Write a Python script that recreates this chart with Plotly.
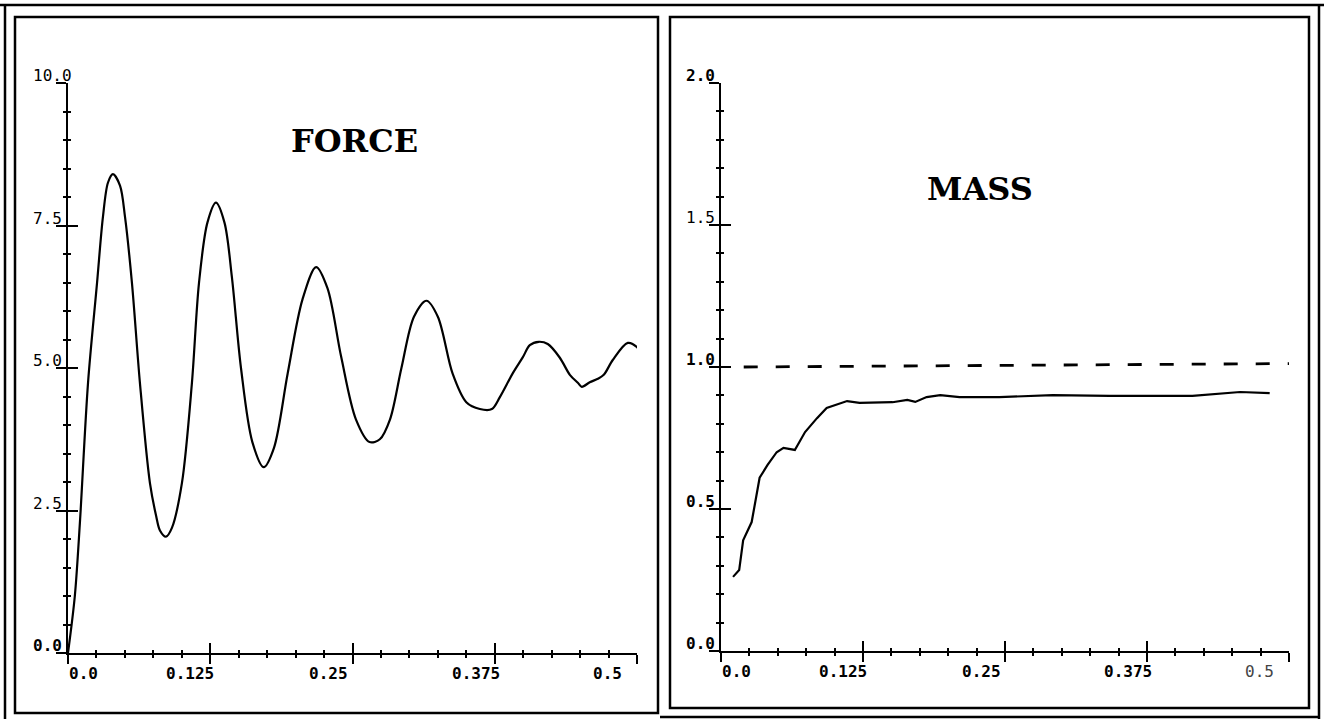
import plotly.graph_objects as go

W, H = 1324, 719

# ---------------- data ----------------
force_t = [0.000, 0.006, 0.0105, 0.0176, 0.0255, 0.0307, 0.0351, 0.0395, 0.0457, 0.0501,
           0.0562, 0.0632, 0.0720, 0.0775, 0.0808, 0.0861, 0.0914, 0.1001, 0.1089, 0.1151,
           0.1225, 0.1300, 0.1375, 0.1440, 0.1520, 0.1620, 0.1720, 0.1810, 0.1930, 0.2060,
           0.2180, 0.2280, 0.2400, 0.2530, 0.2650, 0.2740, 0.2830, 0.2930, 0.3040, 0.3150,
           0.3250, 0.3380, 0.3500, 0.3619, 0.3725, 0.3795, 0.3909, 0.3997, 0.4058, 0.4137,
           0.4216, 0.4322, 0.4410, 0.4480, 0.4515, 0.4585, 0.4656, 0.4708, 0.4787, 0.4919,
           0.4998, 0.5033]
force_v = [0.00, 1.00, 2.30, 4.74, 6.49, 7.65, 8.25, 8.40, 8.20, 7.65,
           6.49, 4.74, 2.98, 2.40, 2.15, 2.04, 2.20, 2.98, 4.74, 6.49,
           7.55, 7.90, 7.55, 6.60, 5.00, 3.70, 3.26, 3.60, 4.90, 6.20,
           6.77, 6.40, 5.20, 4.10, 3.70, 3.75, 4.10, 5.00, 5.90, 6.18,
           5.90, 4.90, 4.40, 4.28, 4.28, 4.49, 4.91, 5.19, 5.40, 5.46,
           5.42, 5.18, 4.88, 4.74, 4.67, 4.75, 4.81, 4.88, 5.14, 5.44,
           5.37, 5.26]

mass_t = [0.0106, 0.0160, 0.0195, 0.0270, 0.0340, 0.0410, 0.0490, 0.0550, 0.0650, 0.0740,
          0.0845, 0.0930, 0.1110, 0.1220, 0.1510, 0.1640, 0.1710, 0.1810, 0.1930, 0.2100,
          0.2450, 0.2920, 0.3420, 0.4150, 0.4570, 0.4830]
mass_v = [0.261, 0.285, 0.390, 0.454, 0.610, 0.655, 0.700, 0.715, 0.708, 0.771,
          0.820, 0.856, 0.880, 0.874, 0.876, 0.884, 0.877, 0.894, 0.901, 0.894,
          0.894, 0.901, 0.898, 0.898, 0.912, 0.908]

target_t = [0.02, 0.50]
target_v = [1.000, 1.012]

x_ticks = [0.0, 0.125, 0.25, 0.375, 0.5]
x_ticklabels = ["0.0", "0.125", "0.25", "0.375", "0.5"]
force_yticks = [0.0, 2.5, 5.0, 7.5, 10.0]
force_yticklabels = ["0.0", "2.5", "5.0", "7.5", "10.0"]
mass_yticks = [0.0, 0.5, 1.0, 1.5, 2.0]
mass_yticklabels = ["0.0", "0.5", "1.0", "1.5", "2.0"]

# ---------------- styling ----------------
xlabel_shift = [15, -20, -24, -19, -30]   # px horizontal offset of x tick labels
LBL_FONT = dict(family="DejaVu Sans Mono", size=16, color="black")


def px_x(p):
    return p / W


def px_y(p):
    return 1 - p / H


fig = go.Figure()

fig.add_trace(go.Scatter(x=force_t, y=force_v, mode="lines", xaxis="x", yaxis="y",
                         line=dict(color="black", width=2.2, shape="spline", smoothing=0.9),
                         showlegend=False, hoverinfo="skip"))
fig.add_trace(go.Scatter(x=mass_t, y=mass_v, mode="lines", xaxis="x2", yaxis="y2",
                         line=dict(color="black", width=2.2),
                         showlegend=False, hoverinfo="skip"))
fig.add_trace(go.Scatter(x=target_t, y=target_v, mode="lines", xaxis="x2", yaxis="y2",
                         line=dict(color="black", width=2.8, dash="14px,18px"),
                         showlegend=False, hoverinfo="skip"))
# invisible traces to activate the overlay (inside-tick) axes
fig.add_trace(go.Scatter(x=[None], y=[None], xaxis="x3", yaxis="y3", showlegend=False))
fig.add_trace(go.Scatter(x=[None], y=[None], xaxis="x4", yaxis="y4", showlegend=False))


def xax(domain, anchor, inside=False, overlay=None):
    d = dict(domain=domain, range=[0, 0.5], anchor=anchor, showgrid=False, zeroline=False,
             showticklabels=False, tickmode="array", tickvals=x_ticks,
             ticks="inside" if inside else "outside", ticklen=10 if inside else 9,
             tickwidth=2, tickcolor="black",
             showline=not inside, linecolor="black", linewidth=2,
             minor=dict(ticks="inside" if inside else "outside", ticklen=3, tickwidth=2,
                        tickcolor="black", tick0=0, dtick=0.025, showgrid=False))
    if overlay:
        d["overlaying"] = overlay
    return d


def yax(domain, anchor, rng, major, minor_dt, inside=False, overlay=None):
    d = dict(domain=domain, range=rng, anchor=anchor, showgrid=False, zeroline=False,
             showticklabels=False, tickmode="array", tickvals=major,
             ticks="inside" if inside else "outside", ticklen=10,
             tickwidth=2, tickcolor="black",
             showline=not inside, linecolor="black", linewidth=2,
             minor=dict(ticks="inside" if inside else "outside", ticklen=3, tickwidth=2,
                        tickcolor="black", tick0=0, dtick=minor_dt, showgrid=False))
    if overlay:
        d["overlaying"] = overlay
    return d


xd1 = [px_x(68), px_x(637)]
yd1 = [px_y(653), px_y(83)]
xd2 = [px_x(721), px_x(1289)]
yd2 = [px_y(651), px_y(83)]

fig.update_layout(
    width=W, height=H,
    margin=dict(l=0, r=0, t=0, b=0),
    paper_bgcolor="white", plot_bgcolor="rgba(0,0,0,0)",
    xaxis=xax(xd1, "y"),
    yaxis=yax(yd1, "x", [0, 10], force_yticks, 0.5),
    xaxis3=xax(xd1, "y", inside=True, overlay="x"),
    yaxis3=yax(yd1, "x", [0, 10], force_yticks, 0.5, inside=True, overlay="y"),
    xaxis2=xax(xd2, "y2"),
    yaxis2=yax(yd2, "x2", [0, 2], mass_yticks, 0.1),
    xaxis4=xax(xd2, "y2", inside=True, overlay="x2"),
    yaxis4=yax(yd2, "x2", [0, 2], mass_yticks, 0.1, inside=True, overlay="y2"),
)

annotations = []
# titles
annotations.append(dict(x=0.252, y=8.98, xref="x", yref="y", text="FORCE", showarrow=False,
                        font=dict(family="DejaVu Serif", size=32, color="black", weight="bold")))
annotations.append(dict(x=0.228, y=1.627, xref="x2", yref="y2", text="MASS", showarrow=False,
                        font=dict(family="DejaVu Serif", size=32, color="black", weight="bold")))

for xr, yr in (("x", "y"), ("x2", "y2")):
    for v, lab, sh in zip(x_ticks, x_ticklabels, xlabel_shift):
        f = dict(LBL_FONT, weight="bold")
        if xr == "x2" and v == 0.5:
            f = dict(LBL_FONT, weight="normal", color="#444")
        annotations.append(dict(x=v, y=0, xref=xr, yref=yr, text=lab, showarrow=False,
                                xanchor="center", yanchor="top", xshift=sh, yshift=-9, font=f))

for v, lab in zip(force_yticks, force_yticklabels):
    f = dict(LBL_FONT, weight="bold" if v == 0 else "normal")
    annotations.append(dict(x=0, y=v, xref="x", yref="y", text=lab, showarrow=False,
                            xanchor="left", yanchor="bottom", xshift=-37, yshift=-4, font=f))
for v, lab in zip(mass_yticks, mass_yticklabels):
    f = dict(LBL_FONT, weight="normal" if v == 1.5 else "bold")
    annotations.append(dict(x=0, y=v, xref="x2", yref="y2", text=lab, showarrow=False,
                            xanchor="left", yanchor="bottom", xshift=-37, yshift=-4, font=f))

fig.update_layout(annotations=annotations)

# frames
LW = 2.5
shapes = [
    dict(type="line", x0=0, x1=1, y0=px_y(5), y1=px_y(5)),
    dict(type="line", x0=px_x(5), x1=px_x(5), y0=px_y(5), y1=0),
    dict(type="line", x0=px_x(1319), x1=px_x(1319), y0=px_y(5), y1=0),
    dict(type="line", x0=px_x(660), x1=px_x(1319), y0=px_y(717), y1=px_y(717)),
    dict(type="rect", x0=px_x(15), x1=px_x(658), y0=px_y(713), y1=px_y(17)),
    dict(type="rect", x0=px_x(670), x1=px_x(1309), y0=px_y(708), y1=px_y(17)),
]
for s in shapes:
    s.update(xref="paper", yref="paper", line=dict(color="black", width=LW))
fig.update_layout(shapes=shapes)

fig.write_html("out.html")
